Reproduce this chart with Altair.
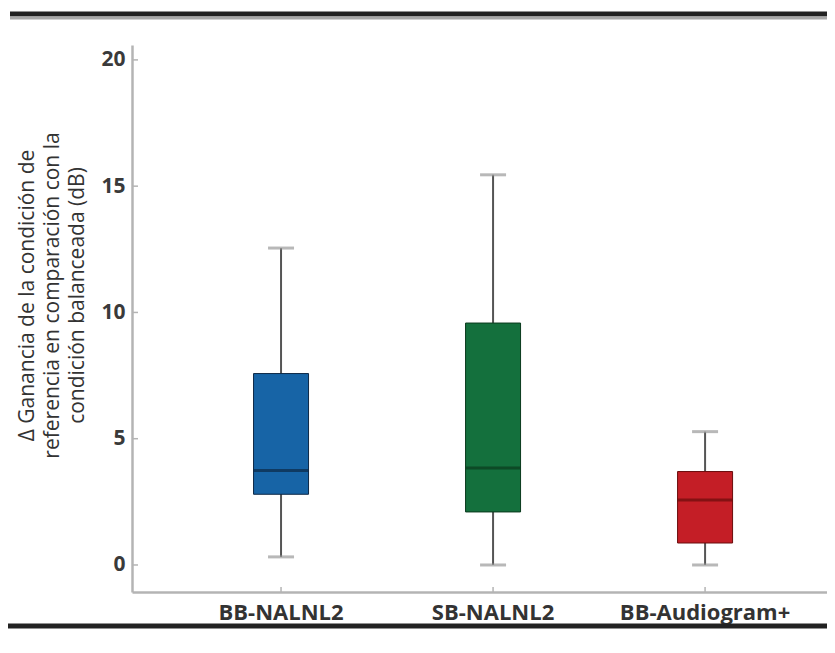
import altair as alt
import pandas as pd

# ---- data ----
categories = ["BB-NALNL2", "SB-NALNL2", "BB-Audiogram+"]
whisker_low = [0.32, 0.0, 0.0]
q1 = [2.8, 2.1, 0.87]
median = [3.74, 3.84, 2.57]
q3 = [7.58, 9.58, 3.7]
whisker_high = [12.55, 15.45, 5.28]
y_ticks = [0, 5, 10, 15, 20]

# ---- styling ----
box_colors = ["#1764a6", "#14703d", "#c41e26"]
median_colors = ["#0d2846", "#0a3a1d", "#6a0c0c"]
y_title = ["\u0394 Ganancia de la condición de",
           "referencia en comparación con la",
           "condición balanceada (dB)"]

W, H = 695, 547

df = pd.DataFrame({
    "cat": categories,
    "low": whisker_low,
    "q1": q1,
    "median": median,
    "q3": q3,
    "high": whisker_high,
})
ticks_df = pd.DataFrame({"v": y_ticks})

xscale = alt.Scale(domain=categories, paddingInner=0, paddingOuter=0.139, align=0.73)
yscale = alt.Scale(domain=[-1.07, 20.59], nice=False, zero=False)

x_enc = alt.X("cat:N", scale=xscale, sort=categories,
              axis=alt.Axis(title=None, labelAngle=0, labelFont="Open Sans",
                            labelFontWeight="bold", labelFontSize=22,
                            labelColor="#333333", labelPadding=10,
                            domainColor="#b4b4b4", domainWidth=2.5,
                            ticks=False))
y_axis = alt.Axis(values=y_ticks, title=y_title, grid=False,
                  labelFont="Open Sans", labelFontWeight="bold",
                  labelFontSize=21, labelColor="#3a3a3a", labelPadding=7,
                  domainColor="#b4b4b4", domainWidth=2.5, ticks=False,
                  titleFont="Open Sans", titleFontWeight="normal",
                  titleFontSize=21, titleColor="#333333", titleLineHeight=25,
                  titleAngle=-90, titleAlign="center", titleBaseline="middle",
                  titleX=-105, titleY=250)

base = alt.Chart(df)

whisk = base.mark_rule(color="#555555", strokeWidth=2).encode(
    x=x_enc,
    y=alt.Y("low:Q", scale=yscale, axis=y_axis),
    y2="high:Q",
)
caps_low = base.mark_tick(color="#9a9a9a", size=26, thickness=3).encode(
    x="cat:N", y="low:Q")
caps_high = base.mark_tick(color="#9a9a9a", size=26, thickness=3).encode(
    x="cat:N", y="high:Q")
box = base.mark_bar(size=55, strokeWidth=1).encode(
    x="cat:N",
    y="q1:Q",
    y2="q3:Q",
    fill=alt.Fill("cat:N", scale=alt.Scale(domain=categories, range=box_colors), legend=None),
    stroke=alt.Stroke("cat:N", scale=alt.Scale(domain=categories, range=median_colors), legend=None),
)
med = base.mark_tick(size=55, thickness=3).encode(
    x="cat:N",
    y="median:Q",
    color=alt.Color("cat:N", scale=alt.Scale(domain=categories, range=median_colors), legend=None),
)
yt = alt.Chart(ticks_df).mark_rule(color="#b4b4b4", strokeWidth=1.5).encode(
    y="v:Q", x=alt.value(0), x2=alt.value(6))
xt = base.mark_rule(color="#b4b4b4", strokeWidth=1.5).encode(
    x="cat:N", y=alt.value(H), y2=alt.value(H - 5))

deco_df = pd.DataFrame({"k": [0]})
top_dark = alt.Chart(deco_df).mark_rule(color="#222222", strokeWidth=5).encode(
    x=alt.value(-122), x2=alt.value(W), y=alt.value(-31))
top_gray = alt.Chart(deco_df).mark_rule(color="#a8a8a8", strokeWidth=3).encode(
    x=alt.value(-122), x2=alt.value(W), y=alt.value(-27))
bot_dark = alt.Chart(deco_df).mark_rule(color="#222222", strokeWidth=5).encode(
    x=alt.value(-124), x2=alt.value(W), y=alt.value(H + 34))

chart = alt.layer(
    whisk, caps_low, caps_high, box, med, yt, xt, top_dark, top_gray, bot_dark
).resolve_scale(
    color="independent", fill="independent", stroke="independent"
).properties(
    width=W, height=H,
    autosize=alt.AutoSizeParams(type="none"),
    padding={"left": 124, "top": 37, "right": 0, "bottom": 50},
).configure(background="white").configure_view(stroke=None)

chart.save("out.html", embed_options={"renderer": "svg", "actions": False})
